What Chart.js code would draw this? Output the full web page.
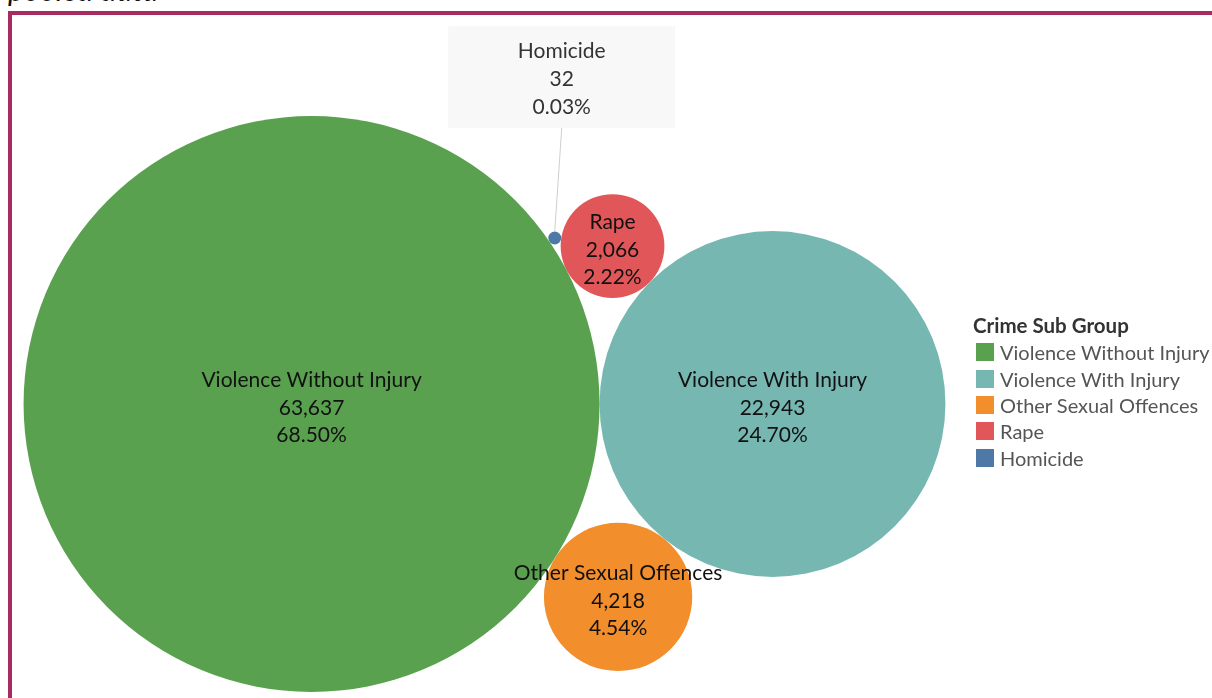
<!DOCTYPE html>
<html>
<head>
<meta charset="utf-8">
<script src="https://cdn.jsdelivr.net/npm/chart.js@4.4.1/dist/chart.umd.min.js"></script>
<style>
  html, body { margin: 0; padding: 0; background: #fff; }
  body { width: 1212px; height: 698px; position: relative; overflow: hidden; font-family: Lato, "Noto Sans", sans-serif; }
  #subtitle { position: absolute; left: 8px; top: -26px; font-size: 30.5px; line-height: 1; font-style: italic; color: #111; white-space: nowrap; }
  #frame { position: absolute; left: 8px; top: 11px; width: 1220px; height: 700px; border-left: 4px solid #a82b5f; border-top: 4px solid #a82b5f; box-sizing: border-box; }
  #chart { position: absolute; left: 0; top: 0; }
  #legend { position: absolute; left: 973px; top: 312px; color: #555; }
  #legend .title { font-weight: bold; font-size: 20.5px; color: #333; height: 27px; line-height: 27px; }
  #legend .item { display: flex; align-items: center; height: 26.4px; font-size: 20px; }
  #legend .sw { width: 18px; height: 18px; margin-left: 3px; margin-right: 6px; }
</style>
</head>
<body>
<div id="subtitle">pooled data</div>
<div id="frame"></div>
<canvas id="chart" width="1212" height="698"></canvas>
<div id="legend"></div>
<script>
// Crime counts by sub group
const categories = ['Violence Without Injury', 'Violence With Injury', 'Other Sexual Offences', 'Rape', 'Homicide'];
const counts = [63637, 22943, 4218, 2066, 32];
const colors = ['#59a14f', '#76b7b2', '#f28e2b', '#e15759', '#4e79a7'];
const legendTitle = 'Crime Sub Group';

const total = counts.reduce((a, b) => a + b, 0);
const fmtCount = v => v.toLocaleString('en-US');
const fmtPct = v => (v / total * 100).toFixed(2) + '%';

// Bubble area proportional to count
const MAX_RADIUS = 288;
const k = MAX_RADIUS / Math.sqrt(Math.max(...counts));
const radii = counts.map(v => k * Math.sqrt(v));

// Circle packing: each new circle sits tangent to two placed ones
function tangent(a, b, r, side) {
  const dx = b.x - a.x, dy = b.y - a.y;
  const D = Math.hypot(dx, dy);
  const d1 = a.r + r, d2 = b.r + r;
  const t = (d1 * d1 - d2 * d2 + D * D) / (2 * D);
  const h = Math.sqrt(Math.max(0, d1 * d1 - t * t));
  const ux = dx / D, uy = dy / D;
  return { x: a.x + t * ux + side * h * -uy, y: a.y + t * uy + side * h * ux, r };
}
const packed = [];
packed[0] = { x: 0, y: 0, r: radii[0] };
packed[1] = { x: radii[0] + radii[1], y: 0, r: radii[1] };
packed[2] = tangent(packed[0], packed[1], radii[2], 1);
packed[3] = tangent(packed[0], packed[1], radii[3], -1);
packed[4] = tangent(packed[0], packed[3], radii[4], -1);

// Centre the pack inside the view pane
const PANE_CENTER = { x: 484.5, y: 404 };
const minX = Math.min(...packed.map(c => c.x - c.r)), maxX = Math.max(...packed.map(c => c.x + c.r));
const minY = Math.min(...packed.map(c => c.y - c.r)), maxY = Math.max(...packed.map(c => c.y + c.r));
const offX = PANE_CENTER.x - (minX + maxX) / 2, offY = PANE_CENTER.y - (minY + maxY) / 2;

const datasets = categories.map((name, i) => ({
  label: name,
  data: [{ x: packed[i].x + offX, y: packed[i].y + offY, r: radii[i] }],
  backgroundColor: colors[i],
  borderWidth: 0,
  hoverBorderWidth: 0
}));

const FONT = 'Lato, "Noto Sans", sans-serif';

const bubbleLabels = {
  id: 'bubbleLabels',
  afterDatasetsDraw(chart) {
    const ctx = chart.ctx;
    ctx.save();
    ctx.textAlign = 'center';
    ctx.textBaseline = 'middle';
    chart.data.datasets.forEach((ds, i) => {
      const el = chart.getDatasetMeta(i).data[0];
      if (!el) return;
      const lines = [categories[i], fmtCount(counts[i]), fmtPct(counts[i])];
      const r = radii[i];
      if (r > 20) {
        ctx.fillStyle = '#111';
        ctx.font = '21px ' + FONT;
        lines.forEach((t, j) => ctx.fillText(t, el.x, el.y + 4 + (j - 1) * 27.5));
      } else {
        // Callout box for marks too small to hold a label
        const bw = 227, bh = 102;
        const cx = el.x + 7, bottom = el.y - 110;
        ctx.strokeStyle = '#cfcfcf';
        ctx.lineWidth = 1;
        ctx.beginPath();
        ctx.moveTo(cx, bottom);
        ctx.lineTo(el.x, el.y - r);
        ctx.stroke();
        ctx.fillStyle = '#f8f8f8';
        ctx.fillRect(cx - bw / 2, bottom - bh, bw, bh);
        ctx.fillStyle = '#333';
        ctx.font = '21px ' + FONT;
        lines.forEach((t, j) => ctx.fillText(t, cx, bottom - bh / 2 + 2 + (j - 1) * 28));
      }
    });
    ctx.restore();
  }
};

new Chart(document.getElementById('chart'), {
  type: 'bubble',
  data: { datasets },
  options: {
    responsive: false,
    animation: false,
    devicePixelRatio: 1,
    layout: { padding: 0, autoPadding: false },
    clip: false,
    scales: {
      x: { display: false, min: 0, max: 1212 },
      y: { display: false, min: 0, max: 698, reverse: true }
    },
    plugins: {
      legend: { display: false },
      tooltip: { enabled: false }
    }
  },
  plugins: [bubbleLabels]
});

// Legend
const legend = document.getElementById('legend');
const title = document.createElement('div');
title.className = 'title';
title.textContent = legendTitle;
legend.appendChild(title);
categories.forEach((name, i) => {
  const row = document.createElement('div');
  row.className = 'item';
  const sw = document.createElement('span');
  sw.className = 'sw';
  sw.style.background = colors[i];
  const tx = document.createElement('span');
  tx.textContent = name;
  row.appendChild(sw);
  row.appendChild(tx);
  legend.appendChild(row);
});
</script>
</body>
</html>
